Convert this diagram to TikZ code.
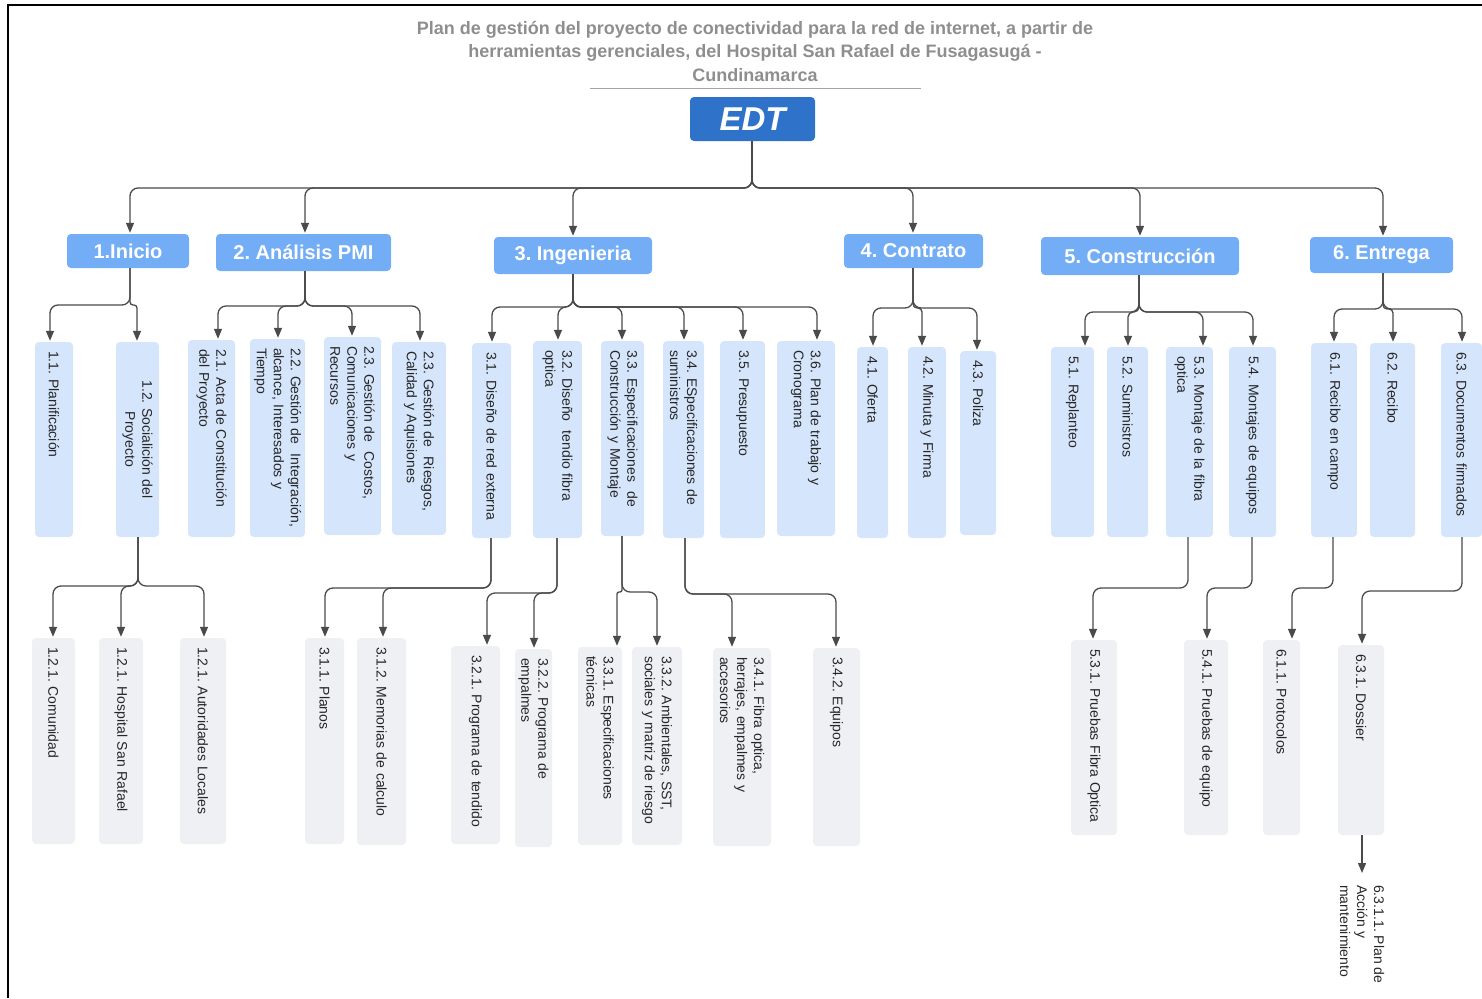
\documentclass[tikz,border=0pt]{standalone}
\usepackage{fontspec}
\setmainfont{Liberation Sans}
\usetikzlibrary{arrows.meta}

\definecolor{edtblue}{HTML}{2E72CA}
\definecolor{lvone}{HTML}{72ADF5}
\definecolor{lvtwo}{HTML}{D5E5FB}
\definecolor{lvthree}{HTML}{EEF0F3}
\definecolor{titlegray}{HTML}{8E8E8E}
\definecolor{txt}{HTML}{262626}
\definecolor{linegray}{HTML}{4A4A4A}

\frenchspacing
\hyphenpenalty=10000
\exhyphenpenalty=10000

% vertical work-package box: style, name, x1, x2, y1, y2, text
\newcommand\wbsbox[7]{%
  \pgfmathsetmacro\wbsL{#6-#5}%
  \pgfmathsetmacro\wbsW{#4-#3}%
  \pgfmathsetmacro\wbsT{#6-#5-18}%
  \pgfmathsetmacro\wbsX{(#3+#4)/2}%
  \pgfmathsetmacro\wbsY{(#5+#6)/2}%
  \node[#1, minimum width=\wbsL pt, minimum height=\wbsW pt, text width=\wbsT pt] (#2) at (\wbsX,\wbsY) {#7};}

% elbow connector: [extra style] parent anchor, start x, bus y, end x, child anchor
\newcommand\wbslink[6][]{%
  \draw[conn,#1] (#3,0 |- #2) -- (#3,#4) -- (#5,#4) -- (#5,0 |- #6);}

\begin{document}
\begin{tikzpicture}[x=1pt,y=-1pt,
  vfont/.style={font=\fontsize{14}{17}\selectfont},
  vb/.style={rotate=-90, rounded corners=4pt, inner xsep=9pt, inner ysep=2pt,
    vfont, text=txt, align=left},
  lvtwobox/.style={vb, fill=lvtwo},
  lvthreebox/.style={vb, fill=lvthree},
  lvonebox/.style={fill=lvone, rounded corners=4pt, inner sep=0pt, text=white,
    font=\bfseries\fontsize{20}{24}\selectfont},
  conn/.style={draw=linegray, line width=1.3pt, rounded corners=8pt,
    -{Triangle[length=10pt,width=8pt]}, shorten >=1pt}]

\useasboundingbox (0,0) rectangle (1482,998);

% frame
\draw[line width=2.2pt, black] (8.2,998) -- (8.2,5.2) -- (1482,5.2);

% title
\node[font=\bfseries\fontsize{18}{23.5}\selectfont, text=titlegray, align=center] (title) at (755,51)
  {Plan de gestión del proyecto de conectividad para la red de internet, a partir de\\
   herramientas gerenciales, del Hospital San Rafael de Fusagasugá -\\
   Cundinamarca};
\draw[titlegray!80, line width=0.8pt] (590,88) -- (921,88);

% root
\node[fill=edtblue, rounded corners=4pt, minimum width=125pt, minimum height=44pt, inner sep=0pt,
  text=white, font=\bfseries\itshape\fontsize{33}{33}\selectfont] (edt) at (752.5,119) {EDT};

% level 1
\node[lvonebox, minimum width=122pt, minimum height=34pt] (n1) at (128,251) {1.Inicio};
\node[lvonebox, minimum width=175pt, minimum height=37pt] (n2) at (303.5,252.5) {2. Análisis PMI};
\node[lvonebox, minimum width=158pt, minimum height=37pt] (n3) at (573,255.5) {3. Ingenieria};
\node[lvonebox, minimum width=139pt, minimum height=34pt] (n4) at (913.5,251) {4. Contrato};
\node[lvonebox, minimum width=198pt, minimum height=38pt] (n5) at (1140,256) {5. Construcción};
\node[lvonebox, minimum width=143pt, minimum height=36pt] (n6) at (1381.5,255) {6. Entrega};

% level 2
\wbsbox{lvtwobox}{p11}{35}{73}{342}{537}{1.1. Planificación}
\wbsbox{lvtwobox, align=center}{p12}{116}{159}{342}{537}{1.2. Socialición del\\Proyecto}
\wbsbox{lvtwobox}{p21}{188}{235}{340}{537}{2.1. Acta de Constitución\\del Proyecto}
\wbsbox{lvtwobox}{p22}{250}{305}{339}{537}{2.2. Gestión de~ Integración,\\alcance, Interesados y\\Tiempo}
\wbsbox{lvtwobox}{p23}{324}{381}{337}{535}{2.3. Gestión de~ Costos,\\Comunicaciones y\\Recursos}
\wbsbox{lvtwobox}{p24}{392}{446}{342}{535}{2.3. Gestión de~ Riesgos,\\Calidad y Aquisiones}
\wbsbox{lvtwobox}{p31}{472}{511}{343}{538}{3.1. Diseño de red externa}
\wbsbox{lvtwobox}{p32}{533}{582}{341}{538}{3.2. Diseño~ tendio fibra\\optica}
\wbsbox{lvtwobox}{p33}{601}{644}{341}{536}{3.3. Especificaciones~ de\\Construcción y Montaje}
\wbsbox{lvtwobox}{p34}{663}{704}{341}{538}{3.4. ESpecificaciones de\\suministros}
\wbsbox{lvtwobox}{p35}{720}{765}{341}{538}{3.5. Presupuesto}
\wbsbox{lvtwobox}{p36}{777}{835}{341}{536}{3.6. Plan de trabajo y\\Cronograma}
\wbsbox{lvtwobox}{p41}{857}{888}{347}{538}{4.1. Oferta}
\wbsbox{lvtwobox}{p42}{908}{946}{347}{538}{4.2. Minuta y Firma}
\wbsbox{lvtwobox}{p43}{960}{996}{351}{535}{4.3. Poliza}
\wbsbox{lvtwobox}{p51}{1051}{1094}{347}{537}{5.1. Replanteo}
\wbsbox{lvtwobox}{p52}{1107}{1148}{347}{537}{5.2. Suministros}
\wbsbox{lvtwobox}{p53}{1166}{1213}{347}{537}{5.3. Montaje de la fibra\\optica}
\wbsbox{lvtwobox}{p54}{1229}{1276}{347}{537}{5.4. Montajes de equipos}
\wbsbox{lvtwobox}{p61}{1311}{1357}{343}{537}{6.1. Recibo en campo}
\wbsbox{lvtwobox}{p62}{1370}{1415}{343}{537}{6.2. Recibo}
\wbsbox{lvtwobox}{p63}{1441}{1482}{343}{537}{6.3. Documentos firmados}

% level 3
\wbsbox{lvthreebox}{c121a}{32}{75}{638}{844}{1.2.1. Comunidad}
\wbsbox{lvthreebox}{c121b}{99}{143}{638}{844}{1.2.1. Hospital San Rafael}
\wbsbox{lvthreebox}{c121c}{180}{226}{638}{844}{1.2.1. Autoridades Locales}
\wbsbox{lvthreebox}{c311}{305}{344}{638}{844}{3.1.1. Planos}
\wbsbox{lvthreebox}{c312}{357}{406}{638}{845}{3.1.2. Memorias de calculo}
\wbsbox{lvthreebox}{c321}{451}{500}{646}{844}{3.2.1. Programa de tendido}
\wbsbox{lvthreebox}{c322}{515}{552}{649}{847}{3.2.2. Programa de\\empalmes}
\wbsbox{lvthreebox}{c331}{578}{622}{647}{845}{3.3.1. Especificaciones\\técnicas}
\wbsbox{lvthreebox}{c332}{632}{682}{647}{845}{3.3.2. Ambientales, SST,\\sociales y matriz de riesgo}
\wbsbox{lvthreebox}{c341}{713}{771}{648}{846}{3.4.1. Fibra optica,\\herrajes, empalmes y\\accesorios}
\wbsbox{lvthreebox}{c342}{813}{860}{648}{846}{3.4.2. Equipos}
\wbsbox{lvthreebox}{c531}{1071}{1117}{640}{835}{5.3.1. Pruebas Fibra Optica}
\wbsbox{lvthreebox}{c541}{1184}{1228}{640}{835}{5.4.1. Pruebas de equipo}
\wbsbox{lvthreebox}{c611}{1263}{1300}{640}{835}{6.1.1. Protocolos}
\wbsbox{lvthreebox}{c631}{1338}{1384}{645}{835}{6.3.1. Dossier}

% level 4 (text only)
\node[rotate=-90, anchor=west, align=left, inner sep=0pt, vfont, text=txt] (t6311) at (1362,885)
  {6.3.1.1. Plan de\\Acción y\\mantenimiento};

% root -> level 1
\wbslink{edt.south}{752}{188}{130}{n1.north}
\wbslink{edt.south}{752}{188}{305}{n2.north}
\wbslink{edt.south}{752}{188}{573}{n3.north}
\wbslink{edt.south}{752}{188}{913}{n4.north}
\wbslink{edt.south}{752}{188}{1140}{n5.north}
\wbslink{edt.south}{752}{188}{1383}{n6.north}

% level 1 -> level 2
\wbslink{n1.south}{130}{305}{50}{p11.west}
\wbslink[rounded corners=3pt]{n1.south}{130}{305}{137}{p12.west}
\wbslink{n2.south}{305}{306}{218}{p21.west}
\wbslink{n2.south}{305}{306}{278}{p22.west}
\wbslink{n2.south}{305}{306}{352}{p23.west}
\wbslink{n2.south}{305}{306}{420}{p24.west}
\wbslink{n3.south}{573}{307}{492}{p31.west}
\wbslink{n3.south}{573}{307}{558}{p32.west}
\wbslink{n3.south}{573}{307}{622}{p33.west}
\wbslink{n3.south}{573}{307}{684}{p34.west}
\wbslink{n3.south}{573}{307}{743}{p35.west}
\wbslink{n3.south}{573}{307}{817}{p36.west}
\wbslink{n4.south}{913}{308}{873}{p41.west}
\wbslink[rounded corners=4pt]{n4.south}{913}{308}{922}{p42.west}
\wbslink{n4.south}{913}{308}{977}{p43.west}
\wbslink{n5.south}{1139}{312}{1085}{p51.west}
\wbslink[rounded corners=5pt]{n5.south}{1139}{312}{1128}{p52.west}
\wbslink{n5.south}{1139}{312}{1203}{p53.west}
\wbslink{n5.south}{1139}{312}{1253}{p54.west}
\wbslink{n6.south}{1383}{309}{1334}{p61.west}
\wbslink[rounded corners=4pt]{n6.south}{1383}{309}{1393}{p62.west}
\wbslink{n6.south}{1383}{309}{1462}{p63.west}

% level 2 -> level 3
\wbslink{p12.east}{138}{586}{53}{c121a.west}
\wbslink{p12.east}{138}{586}{121}{c121b.west}
\wbslink{p12.east}{138}{586}{204}{c121c.west}
\wbslink{p31.east}{491}{588}{325}{c311.west}
\wbslink{p31.east}{491}{588}{383}{c312.west}
\wbslink{p32.east}{557}{593}{487}{c321.west}
\wbslink{p32.east}{557}{593}{534}{c322.west}
\wbslink[rounded corners=2pt]{p33.east}{622}{592}{617}{c331.west}
\wbslink{p33.east}{622}{592}{657}{c332.west}
\wbslink{p34.east}{685}{594}{732}{c341.west}
\wbslink{p34.east}{685}{594}{836}{c342.west}
\wbslink{p53.east}{1188}{588}{1093}{c531.west}
\wbslink{p54.east}{1252}{588}{1207}{c541.west}
\wbslink{p61.east}{1333}{588}{1292}{c611.west}
\wbslink{p63.east}{1462}{591}{1362}{c631.west}

% level 3 -> level 4
\draw[conn, shorten >=12pt] (1362,0 |- c631.east) -- (t6311.west);

\end{tikzpicture}
\end{document}
